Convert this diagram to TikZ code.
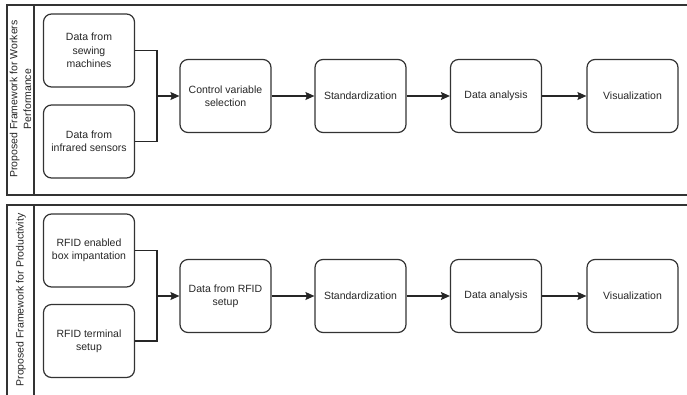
\documentclass[tikz,border=0pt]{standalone}
\usepackage{fontspec}
\setmainfont{Liberation Sans}
\usepackage{tikz}
\usetikzlibrary{arrows.meta}

\begin{document}
\begin{tikzpicture}[x=1pt,y=-1pt,
		box/.style={draw=black!80,line width=1.2pt,rounded corners=8pt,minimum width=91pt,minimum height=73pt,align=center,font=\fontsize{10.5}{13.3}\selectfont,text=black!85},
		pool/.style={draw=black!80,line width=1.4pt},
		lane/.style={rotate=90,align=center,font=\fontsize{10.5}{13.8}\selectfont,text=black!85},
		link/.style={draw=black!85,line width=1.2pt},
		flow/.style={link,-{Stealth[length=9pt,width=8pt,inset=1.5pt]}}]
	\useasboundingbox (0,0) rectangle (687,394);
	
	% workers performance
	\draw[pool] (7,5) rectangle (700,195);
	\draw[pool] (34,5) -- (34,195);
	\node[lane] (L1) at (20.5,99) {Proposed Framework for Workers\\Performance};
	
	\node[box] (W1) at (89,50.5) {Data from\\sewing\\machines};
	\node[box] (W2) at (89,141.5) {Data from\\infrared sensors};
	\node[box] (W3) at (225.5,96) {Control variable\\selection};
	\node[box] (W4) at (360.5,96) {Standardization};
	\node[box] (W5) at (496,96) {Data analysis};
	\node[box] (W6) at (632.5,96) {Visualization};
	\coordinate (WJ) at (157,96);
	
	\draw[link] (W1) -| (WJ);
	\draw[link] (W2) -| (WJ);
	\draw[flow] (WJ) -- (W3);
	\draw[flow] (W3) -- (W4);
	\draw[flow] (W4) -- (W5);
	\draw[flow] (W5) -- (W6);
	
	% productivity
	\draw[pool] (7,205) rectangle (700,400);
	\draw[pool] (34,205) -- (34,400);
	\node[lane] (L2) at (21,300) {Proposed Framework for Productivity};
	
	\node[box] (P1) at (89,250.5) {RFID enabled\\box impantation};
	\node[box] (P2) at (89,341) {RFID terminal\\setup};
	\node[box] (P3) at (225.5,296) {Data from RFID\\setup};
	\node[box] (P4) at (360.5,296) {Standardization};
	\node[box] (P5) at (496,296) {Data analysis};
	\node[box] (P6) at (632.5,296) {Visualization};
	\coordinate (PJ) at (157,296);
	
	\draw[link] (P1) -| (PJ);
	\draw[link] (P2) -| (PJ);
	\draw[flow] (PJ) -- (P3);
	\draw[flow] (P3) -- (P4);
	\draw[flow] (P4) -- (P5);
	\draw[flow] (P5) -- (P6);
\end{tikzpicture}
\end{document}
